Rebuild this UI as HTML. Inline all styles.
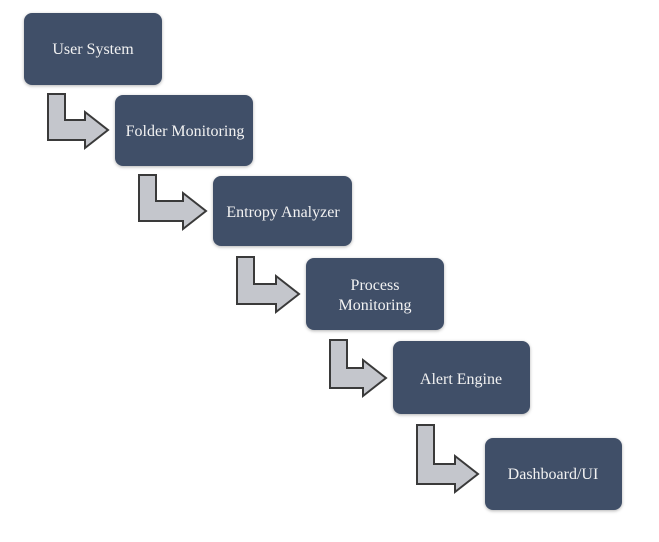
<!DOCTYPE html>
<html><head><meta charset="utf-8"><style>
html,body{margin:0;padding:0;background:#fff;}
svg{display:block;}
text{font-family:"Liberation Serif",serif;font-size:16px;fill:#f2f2f2;}
</style></head><body>
<svg width="659" height="542" viewBox="0 0 659 542" xmlns="http://www.w3.org/2000/svg">
<defs><filter id="s" x="-10%" y="-10%" width="120%" height="130%"><feDropShadow dx="0" dy="1" stdDeviation="1.5" flood-color="#000" flood-opacity="0.3"/></filter></defs>
<g fill="#c4c6cc" stroke="#3a3a3a" stroke-width="2" stroke-linejoin="miter">
<path d="M48 94 H65 V120 H85 V112 L108 130 L85 148 V140 H48 Z"/>
<path d="M139 175 H156 V201 H183 V193 L206 211 L183 229 V221 H139 Z"/>
<path d="M237 257 H254 V284 H276 V276 L299 294 L276 312 V304 H237 Z"/>
<path d="M330 340 H347 V368 H363 V360 L386 378 L363 396 V388 H330 Z"/>
<path d="M417 425 H434 V464 H455 V456 L478 474 L455 492 V484 H417 Z"/>
</g>
<g fill="#414f68" filter="url(#s)">
<rect x="24" y="13" width="138" height="72" rx="8"/>
<rect x="115" y="95" width="138" height="71" rx="8"/>
<rect x="213" y="176" width="139" height="70" rx="8"/>
<rect x="306" y="258" width="138" height="72" rx="8"/>
<rect x="393" y="341" width="137" height="73" rx="8"/>
<rect x="485" y="438" width="137" height="72" rx="8"/>
</g>
<g text-anchor="middle">
<text x="93" y="54">User System</text>
<text x="185" y="136">Folder Monitoring</text>
<text x="283" y="217">Entropy Analyzer</text>
<text x="375" y="290">Process</text>
<text x="375" y="310">Monitoring</text>
<text x="461" y="384">Alert Engine</text>
<text x="553" y="479">Dashboard/UI</text>
</g>
</svg>
</body></html>
